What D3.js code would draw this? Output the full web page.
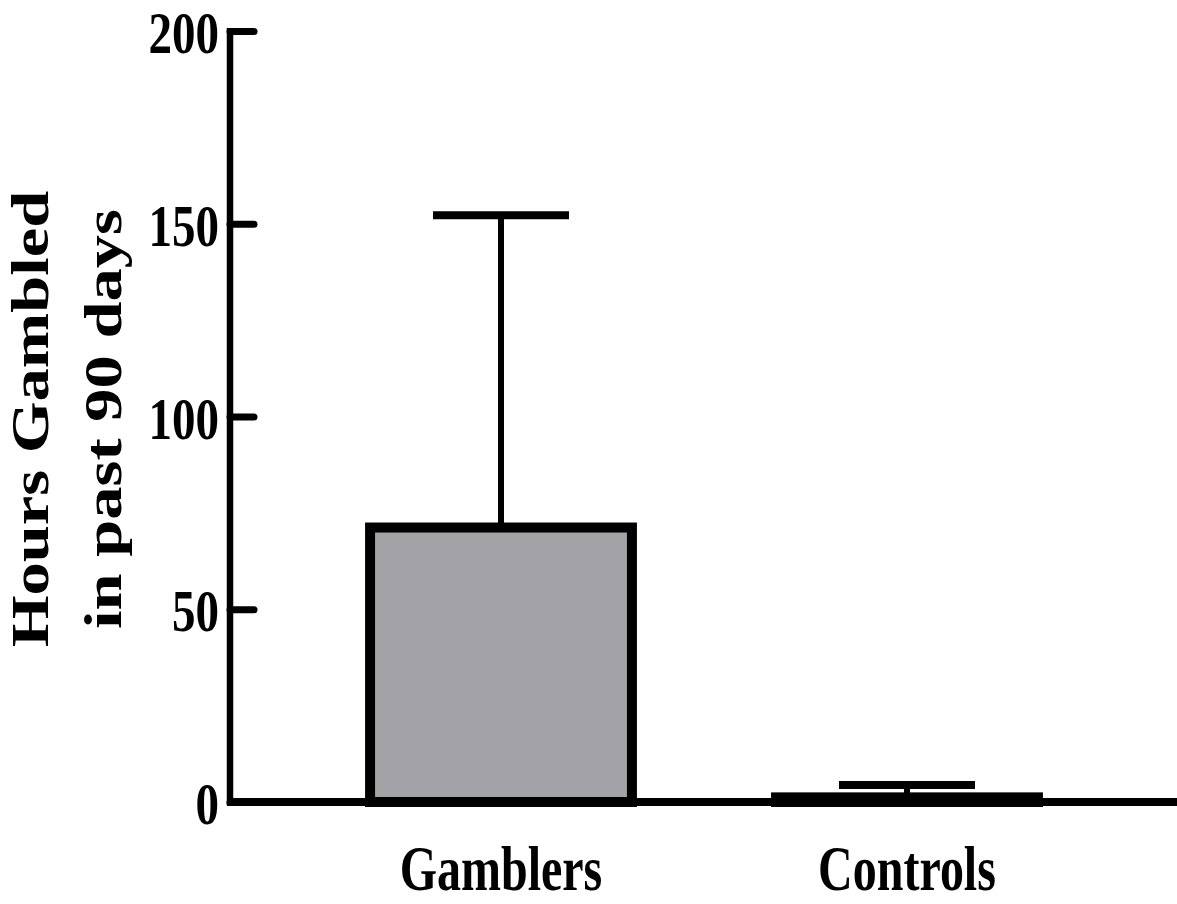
<!DOCTYPE html>
<html>
<head>
<meta charset="utf-8">
<script src="https://cdn.jsdelivr.net/npm/d3@7"></script>
<style>
  body { margin: 0; background: #fff; }
  text { font-family: "Liberation Serif", "Times New Roman", serif; font-weight: bold; fill: #000; }
</style>
</head>
<body>
<svg id="chart"></svg>
<script>
const groups = ["Gamblers", "Controls"];
const means = [71.2, 1.2];
const errTop = [152.2, 4.4];
const yTicks = [0, 50, 100, 150, 200];
const titleLines = ["Hours Gambled", "in past 90 days"];

const W = 1177, H = 904;
const stretch = 1.28; // text in the original is taller than it is wide

const svg = d3.select("#chart").attr("width", W).attr("height", H);

const axisX = 230;
const y = d3.scaleLinear().domain([0, 200]).range([802, 31]);
const x = d3.scalePoint().domain(groups).range([298, 1110]).padding(0.5);
const barW = x.step() * 0.645;
const capHalf = 68;

const data = groups.map((g, i) => ({ group: g, mean: means[i], top: errTop[i] }));

// error bars (drawn first, bars sit over the stem)
svg.selectAll(".stem")
  .data(data)
  .join("line")
  .attr("class", "stem")
  .attr("x1", d => x(d.group)).attr("x2", d => x(d.group))
  .attr("y1", d => y(d.mean)).attr("y2", d => y(d.top))
  .attr("stroke", "#000").attr("stroke-width", 6);

svg.selectAll(".cap")
  .data(data)
  .join("line")
  .attr("class", "cap")
  .attr("x1", d => x(d.group) - capHalf).attr("x2", d => x(d.group) + capHalf)
  .attr("y1", d => y(d.top)).attr("y2", d => y(d.top))
  .attr("stroke", "#000").attr("stroke-width", 8);

// bars
svg.selectAll(".bar")
  .data(data)
  .join("rect")
  .attr("class", "bar")
  .attr("x", d => x(d.group) - barW / 2)
  .attr("width", barW)
  .attr("y", d => y(d.mean))
  .attr("height", d => y(0) - y(d.mean))
  .attr("fill", "#a3a2a7")
  .attr("stroke", "#000")
  .attr("stroke-width", 10);

// y axis
const yAxisG = svg.append("g")
  .attr("transform", `translate(${axisX},0)`)
  .call(d3.axisLeft(y).tickValues(yTicks).tickSize(-24).tickSizeOuter(0).tickPadding(11));

yAxisG.select(".domain").remove();
yAxisG.selectAll(".tick line")
  .attr("stroke", "#000").attr("stroke-width", 7).attr("stroke-linecap", "round");
yAxisG.selectAll(".tick text")
  .attr("font-size", 47)
  .attr("font-family", null)
  .attr("dy", "0.36em")
  .attr("transform", `scale(1,${stretch})`);

svg.append("line")
  .attr("x1", axisX).attr("x2", axisX)
  .attr("y1", y(200) - 3).attr("y2", y(0) + 3)
  .attr("stroke", "#000").attr("stroke-width", 6.5);

// x axis line
svg.append("line")
  .attr("x1", axisX - 3).attr("x2", W)
  .attr("y1", y(0)).attr("y2", y(0))
  .attr("stroke", "#000").attr("stroke-width", 8);

// category labels
svg.selectAll(".xlab")
  .data(groups)
  .join("g")
  .attr("class", "xlab")
  .attr("transform", d => `translate(${x(d)},890) scale(1,1.3)`)
  .append("text")
  .attr("text-anchor", "middle")
  .attr("font-size", 48)
  .text(d => d);

// y axis title
const title = svg.append("g")
  .attr("transform", `translate(48,419) scale(1,${stretch}) rotate(-90)`);
title.selectAll("text")
  .data(titleLines)
  .join("text")
  .attr("text-anchor", "middle")
  .attr("y", (d, i) => i * 73)
  .attr("font-size", 52)
  .text(d => d);
</script>
</body>
</html>
